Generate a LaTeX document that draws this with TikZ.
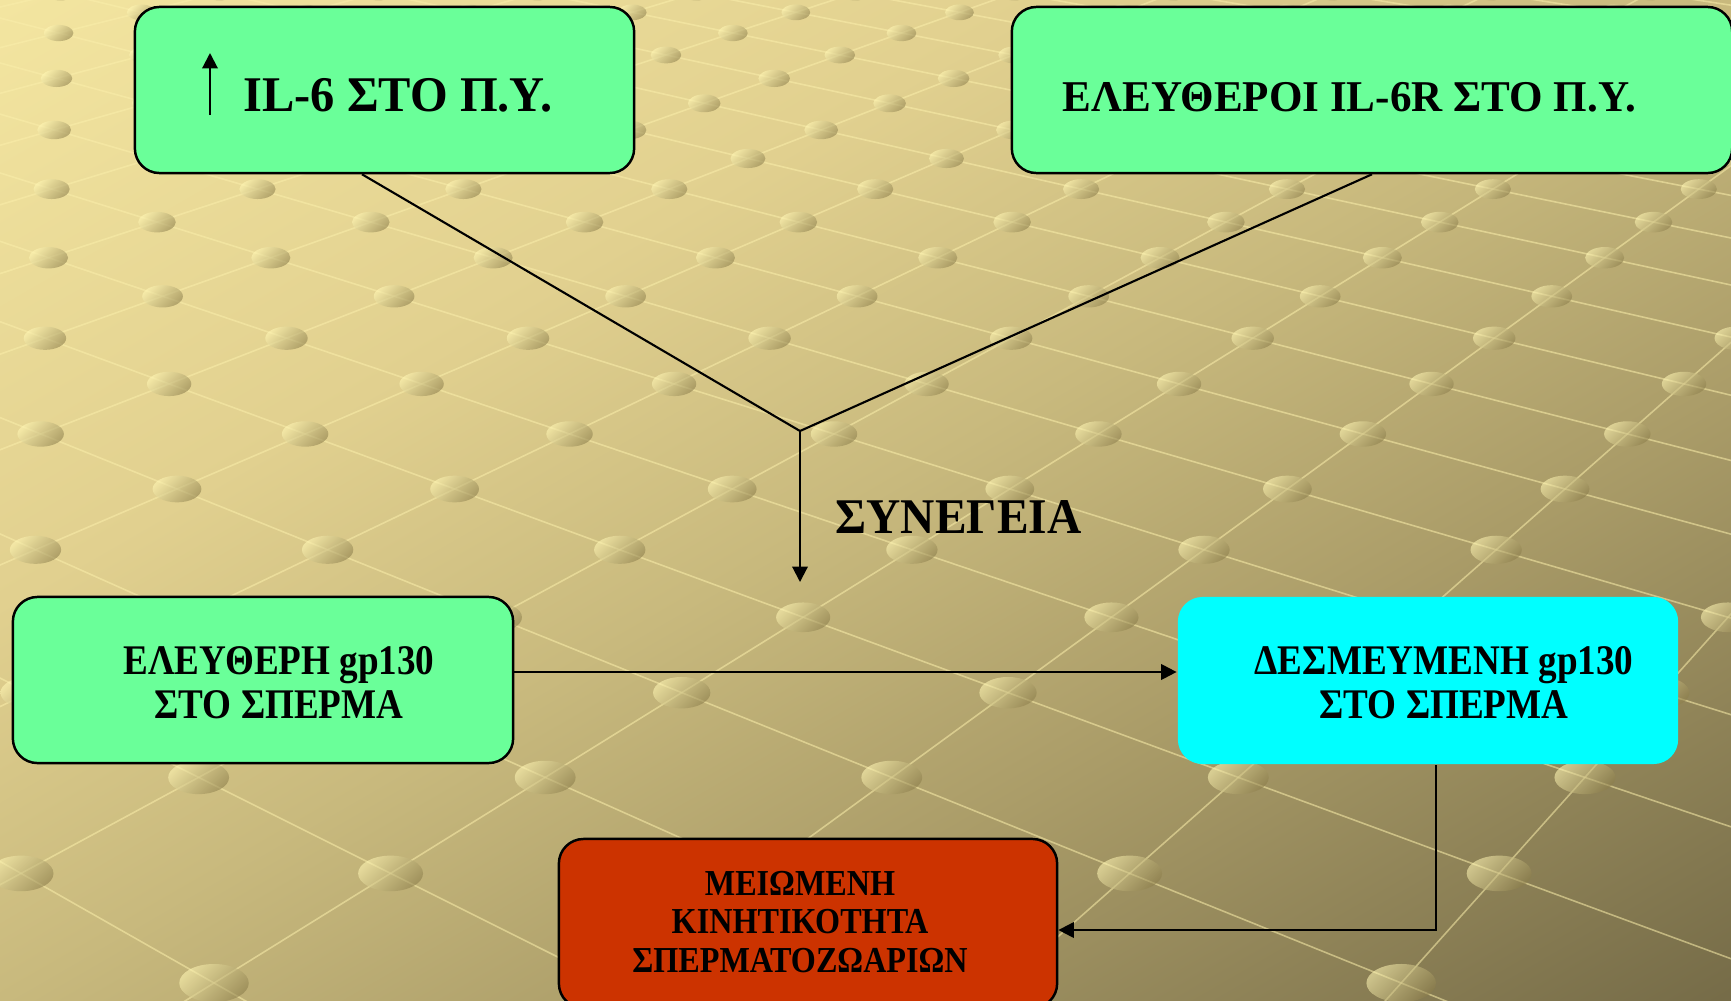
\documentclass[tikz,border=0pt]{standalone}
\usepackage{fontspec}
\usepackage{graphicx}
\setmainfont{Liberation Serif}
\usetikzlibrary{arrows.meta}
\definecolor{boxgreen}{RGB}{106,255,153}
\definecolor{boxcyan}{RGB}{0,255,255}
\definecolor{boxred}{RGB}{204,51,0}
\definecolor{bg0}{RGB}{243,229,160}
\definecolor{bg1}{RGB}{225,208,143}
\definecolor{bg2}{RGB}{200,185,125}
\definecolor{bg3}{RGB}{170,156,104}
\definecolor{bg4}{RGB}{118,108,72}
\definecolor{gridcol}{RGB}{250,238,170}
\definecolor{dotlight}{RGB}{255,246,180}
\definecolor{dotdark}{RGB}{140,126,76}
\newcommand{\hsq}[2]{\scalebox{#1}[1]{#2}}
\pgfdeclareverticalshading{bgshade}{100bp}{color(0bp)=(bg4); color(29.4bp)=(bg4); color(41.8bp)=(bg3); color(50bp)=(bg2); color(58.2bp)=(bg1); color(70.6bp)=(bg0); color(100bp)=(bg0)}
\tikzset{
  box/.style={rectangle, rounded corners=7pt, draw=black, line width=0.7pt, inner sep=0pt},
  big/.style={font=\bfseries\fontsize{14.2pt}{15pt}\selectfont, inner sep=0pt},
  bigb/.style={font=\bfseries\fontsize{12.5pt}{13pt}\selectfont, inner sep=0pt},
  mid/.style={font=\bfseries\fontsize{12pt}{12.5pt}\selectfont, align=center, inner sep=0pt},
  small/.style={font=\bfseries\fontsize{10.4pt}{11pt}\selectfont, align=center, inner sep=0pt},
  conn/.style={line width=0.6pt, draw=black},
  arr/.style={conn, -{Triangle[length=4.4pt,width=4.4pt]}},
  gridline/.style={draw=gridcol, line width=0.45pt, opacity=0.55},
  bgdot/.style={top color=dotlight, bottom color=dotdark, shading angle=45, opacity=0.58}
}
\begin{document}
\begin{tikzpicture}[x=0.01cm,y=-0.01cm]
\useasboundingbox (0,0) rectangle (1731,1000);
\begin{scope}
\clip (0,0) rectangle (1731,1000);
\shade[shading=bgshade, shading angle=30] (-184.5,-550) rectangle (1915.5,1550);
% perspective grid lines towards two vanishing points
\foreach \k in {-9,...,7}{
  \pgfmathsetmacro\aa{177+277.6*\k}
  \pgfmathsetmacro\xtop{\aa+(2880-\aa)*0.4384}
  \pgfmathsetmacro\xbot{\aa-(2880-\aa)*0.4574}
  \draw[gridline] (\xtop,-20) -- (\xbot,1020);
}
\foreach \k in {-4,...,19}{
  \pgfmathsetmacro\bb{177+277.6*\k}
  \pgfmathsetmacro\xtop{\bb+(-2700-\bb)*0.4384}
  \pgfmathsetmacro\xbot{\bb-(-2700-\bb)*0.4574}
  \draw[gridline] (\xtop,-20) -- (\xbot,1020);
}
% dots at the crossings
\foreach \j in {-7,...,15}{
  \pgfmathsetmacro\lam{\j*277.6/(\j*277.6+5580)}
  \pgfmathsetmacro\yy{489-\lam*1161}
  \pgfmathsetmacro\rx{0.021*(\yy+672)*0.01}
  \pgfmathsetmacro\ry{0.0115*(\yy+672)*0.01}
  \foreach \i in {-14,...,10}{
    \pgfmathsetmacro\aa{177+277.6*\i}
    \pgfmathsetmacro\xx{\aa+(2880-\aa)*\lam}
    \pgfmathparse{and(and(\xx>-50,\xx<1781),and(\yy>-40,\yy<1040))}
    \ifdim\pgfmathresult pt>0.5pt
      \shade[bgdot] (\xx,\yy) ellipse [x radius=\rx cm, y radius=\ry cm];
    \fi
  }
}
\end{scope}

% boxes
\node[box, fill=boxgreen, minimum width=4.99cm, minimum height=1.66cm] (b1) at (384.5,90) {};
\node[box, fill=boxgreen, minimum width=7.20cm, minimum height=1.66cm] (b2) at (1372,90) {};
\node[box, fill=boxgreen, minimum width=5.00cm, minimum height=1.66cm] (b3) at (263,680) {};
\node[box, draw=none, fill=boxcyan, minimum width=5.00cm, minimum height=1.67cm] (b4) at (1428,680.5) {};
\node[box, fill=boxred, minimum width=4.98cm, minimum height=1.69cm] (b5) at (808,923.5) {};

% texts
\coordinate (upfoot) at (210,115);
\coordinate (uphead) at (210,53);
\draw[arr] (upfoot) -- (uphead);
\node[big, anchor=base west] (t1) at (243,111) {\hsq{0.97}{IL-6 ΣΤΟ Π.Υ.}};
\node[bigb, anchor=base west] (t2) at (1062,111) {\hsq{0.98}{ΕΛΕΥΘΕΡΟΙ IL-6R ΣΤΟ Π.Υ.}};
\node[mid] (t3) at (279,683) {\hsq{0.88}{ΕΛΕΥΘΕΡΗ gp130}\\\hsq{0.88}{ΣΤΟ ΣΠΕΡΜΑ}};
\node[mid] (t4) at (1444,683) {\hsq{0.88}{ΔΕΣΜΕΥΜΕΝΗ gp130}\\\hsq{0.88}{ΣΤΟ ΣΠΕΡΜΑ}};
\node[small] (t5) at (800,922) {\hsq{0.88}{ΜΕΙΩΜΕΝΗ}\\\hsq{0.88}{ΚΙΝΗΤΙΚΟΤΗΤΑ}\\\hsq{0.88}{ΣΠΕΡΜΑΤΟΖΩΑΡΙΩΝ}};
\node[big, anchor=base west] (t6) at (835,533) {\hsq{0.95}{ΣΥΝΕΓΕΙΑ}};

% connectors
\coordinate (J) at (800,431);
\coordinate (Jend) at (800,582);
\draw[conn] ([xshift=-0.225cm]b1.south) -- (J);
\draw[conn] (b2.south) -- (J);
\draw[arr] (J) -- (Jend);
\draw[arr] ([yshift=0.08cm]b3.east) -- ([yshift=0.08cm]b3.east -| b4.west);
\draw[arr] ([xshift=0.08cm]b4.south) |- ([yshift=-0.065cm]b5.east);
\end{tikzpicture}
\end{document}
